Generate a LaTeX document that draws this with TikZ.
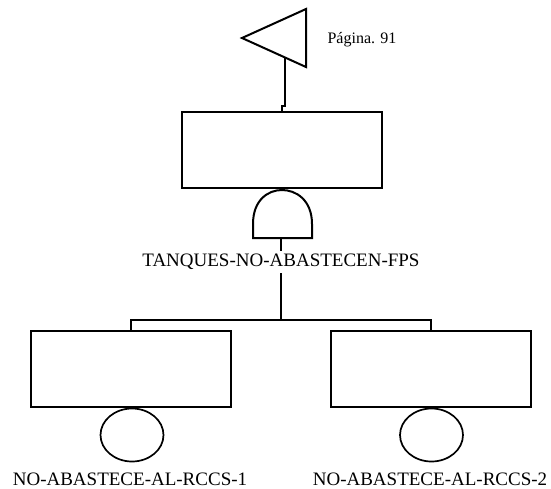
\documentclass[tikz,border=0pt]{standalone}
\usepackage{fontspec}
\setmainfont{Liberation Serif}
\usepackage{tikz}
\usetikzlibrary{shapes.geometric}

\begin{document}
\begin{tikzpicture}[
  x=1pt, y=-1pt,
  line/.style={line width=2pt},
  evbox/.style={draw, line width=2pt, minimum width=200pt, minimum height=76pt, inner sep=0pt},
  basic/.style={draw, ellipse, line width=1.7pt, minimum width=63pt, minimum height=53pt, inner sep=0pt},
  lbl/.style={anchor=base, inner sep=3pt, font=\fontsize{19}{22}\selectfont}
]
\useasboundingbox (0,0) rectangle (551,488);
% transfer symbol
\draw[line, line join=miter] (242,38) -- (306,9) -- (306,67) -- cycle;
\coordinate (xfer) at (285,57.5);
\node[anchor=base, font=\fontsize{16}{19}\selectfont] (page) at (362,43.5) {Página. 91};
% top event
\node[evbox] (top) at (281.5,150) {};
\draw[line] (xfer) -- ++(0,48.5) -| (top.north);
% AND gate
\draw[line] (253,238) -- (253,224) .. controls (253,200) and (268,190) .. (282,190)
  .. controls (296,190) and (312,200) .. (312,224) -- (312,238) -- cycle;
\coordinate (gate) at (281,238);
\coordinate (split) at (281,320);
\draw[line] (gate) -- (split);
\node[lbl, fill=white] (gname) at (281,266.5) {TANQUES-NO-ABASTECEN-FPS};
% basic events
\node[evbox] (lbox) at (131,369) {};
\node[evbox] (rbox) at (431,369) {};
\draw[line] (lbox.north) |- (split) -| (rbox.north);
\node[basic] (lev) at (132,435) {};
\node[basic] (rev) at (431.5,435) {};
\node[lbl] (lname) at (130,485) {NO-ABASTECE-AL-RCCS-1};
\node[lbl] (rname) at (430,485) {NO-ABASTECE-AL-RCCS-2};
\end{tikzpicture}
\end{document}
